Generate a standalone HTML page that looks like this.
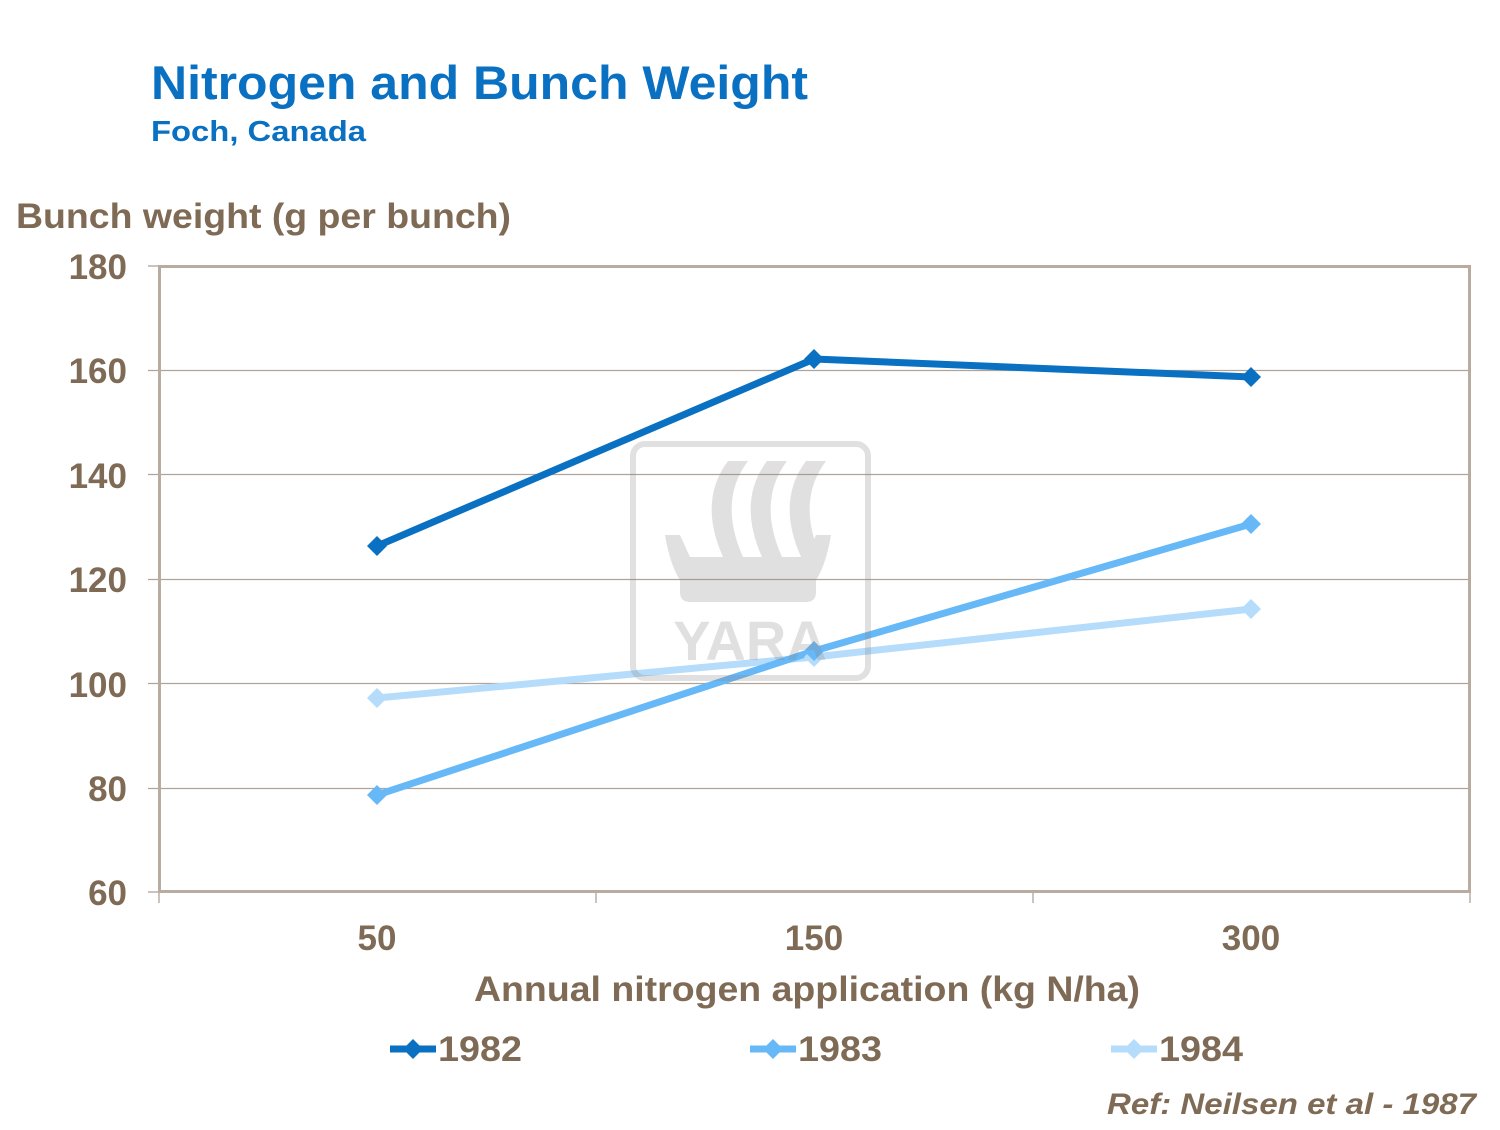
<!DOCTYPE html>
<html><head><meta charset="utf-8"><style>
body{margin:0;background:#fff;}
svg text{font-family:"Liberation Sans",Arial,sans-serif;font-weight:bold;}
</style></head><body>
<svg width="1500" height="1125" viewBox="0 0 1500 1125" xmlns="http://www.w3.org/2000/svg">
<text x="151" y="99" font-size="47" fill="#0a70c2" textLength="657" lengthAdjust="spacingAndGlyphs">Nitrogen and Bunch Weight</text>
<text x="151" y="141" font-size="29" fill="#0a70c2" textLength="215" lengthAdjust="spacingAndGlyphs">Foch, Canada</text>
<text x="16" y="228" font-size="35" fill="#7f6b55" textLength="495" lengthAdjust="spacingAndGlyphs">Bunch weight (g per bunch)</text>
<g stroke="#b0a498" stroke-width="1.3">
<line x1="148" y1="370.5" x2="1470" y2="370.5"/>
<line x1="148" y1="474.5" x2="1470" y2="474.5"/>
<line x1="148" y1="579.5" x2="1470" y2="579.5"/>
<line x1="148" y1="683.5" x2="1470" y2="683.5"/>
<line x1="148" y1="788.5" x2="1470" y2="788.5"/>
<line x1="148" y1="266" x2="159" y2="266"/>
<line x1="148" y1="892" x2="159" y2="892"/>
<line x1="159" y1="892" x2="159" y2="903"/>
<line x1="596" y1="892" x2="596" y2="903"/>
<line x1="1033" y1="892" x2="1033" y2="903"/>
<line x1="1470" y1="892" x2="1470" y2="903"/>
</g>
<rect x="159.5" y="266.5" width="1310" height="625" fill="none" stroke="#b8aca0" stroke-width="3"/>
<g font-size="35" fill="#7f6b55" text-anchor="end">
<text x="127" y="279">180</text><text x="127" y="383">160</text><text x="127" y="488">140</text>
<text x="127" y="592">120</text><text x="127" y="697">100</text><text x="127" y="801">80</text><text x="127" y="905">60</text>
</g>
<g font-size="35" fill="#7f6b55" text-anchor="middle">
<text x="377" y="950">50</text><text x="814" y="950">150</text><text x="1251" y="950">300</text>
</g>
<text x="474" y="1001" font-size="35" fill="#7f6b55" textLength="666" lengthAdjust="spacingAndGlyphs">Annual nitrogen application (kg N/ha)</text>
<g fill="none" stroke-width="7" stroke-linejoin="round">
<polyline points="377,698 814,657 1251,609" stroke="#b5dcfa"/>
<polyline points="377,795 814,651 1251,524" stroke="#66b8f7"/>
<polyline points="377,546 814,359 1251,377" stroke="#0a70c2"/>
</g>
<g>
<g fill="#b5dcfa"><path d="M377,688 l10,10 l-10,10 l-10,-10z"/><path d="M814,647 l10,10 l-10,10 l-10,-10z"/><path d="M1251,599 l10,10 l-10,10 l-10,-10z"/></g>
<g fill="#66b8f7"><path d="M377,785 l10,10 l-10,10 l-10,-10z"/><path d="M814,641 l10,10 l-10,10 l-10,-10z"/><path d="M1251,514 l10,10 l-10,10 l-10,-10z"/></g>
<g fill="#0a70c2"><path d="M377,536 l10,10 l-10,10 l-10,-10z"/><path d="M814,349 l10,10 l-10,10 l-10,-10z"/><path d="M1251,367 l10,10 l-10,10 l-10,-10z"/></g>
</g>
<g opacity="0.25" fill="#888">
<rect x="633" y="444" width="235" height="234" rx="12" fill="none" stroke="#888" stroke-width="6"/>
<path d="M728,461 h20 q-30,40 -5,96 h-20 q-25,-56 5,-96z"/>
<path d="M767,461 h20 q-30,40 -5,96 h-20 q-25,-56 5,-96z"/>
<path d="M806,461 h20 q-30,40 -5,96 h-20 q-25,-56 5,-96z"/>
<path d="M665,535 h15 l10,22 h116 l10,-22 h15 q-5,30 -15,45 v12 q0,10 -10,10 h-116 q-10,0 -10,-10 v-12 q-10,-15 -15,-45z"/>
<text x="750" y="660" font-size="56" text-anchor="middle" fill="#888">YARA</text>
</g>
<g font-size="35" fill="#7f6b55">
<line x1="390" y1="1049" x2="436" y2="1049" stroke="#0a70c2" stroke-width="7"/>
<path d="M413,1039 l10,10 l-10,10 l-10,-10z" fill="#0a70c2"/>
<text x="438" y="1061" textLength="84" lengthAdjust="spacingAndGlyphs">1982</text>
<line x1="750" y1="1049" x2="796" y2="1049" stroke="#66b8f7" stroke-width="7"/>
<path d="M773,1039 l10,10 l-10,10 l-10,-10z" fill="#66b8f7"/>
<text x="798" y="1061" textLength="84" lengthAdjust="spacingAndGlyphs">1983</text>
<line x1="1111" y1="1049" x2="1157" y2="1049" stroke="#b5dcfa" stroke-width="7"/>
<path d="M1134,1039 l10,10 l-10,10 l-10,-10z" fill="#b5dcfa"/>
<text x="1159" y="1061" textLength="84" lengthAdjust="spacingAndGlyphs">1984</text>
</g>
<text x="1107" y="1114" font-size="30" font-style="italic" fill="#7f6b55" textLength="369" lengthAdjust="spacingAndGlyphs">Ref: Neilsen et al - 1987</text>
</svg>
</body></html>
